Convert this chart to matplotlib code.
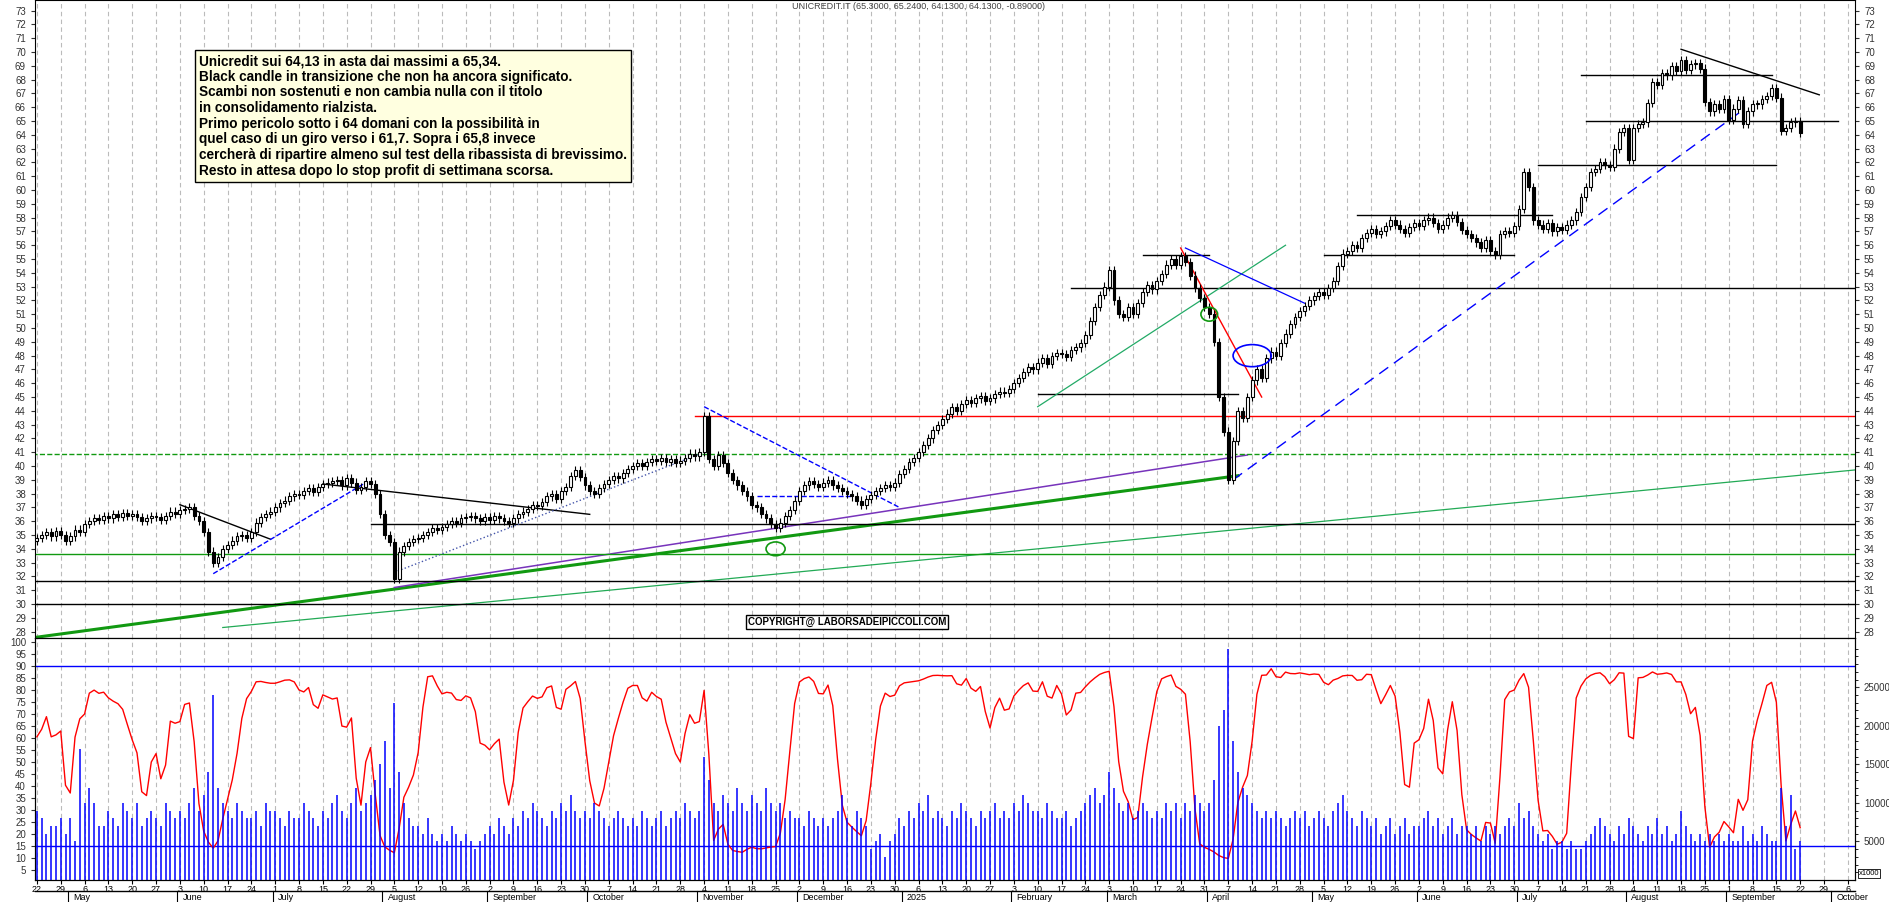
import numpy as np
import pandas as pd
import matplotlib
matplotlib.use("Agg")
import matplotlib.pyplot as plt
from matplotlib.patches import Rectangle, Ellipse

plt.rcParams["font.family"] = "Liberation Sans"

# ---------------- data ----------------
start_date = "2024-04-22"
end_date = "2025-09-22"
closes = [
    34.8, 35.0, 35.2, 34.9, 35.3,
    35.0, 34.6, 34.9, 35.4, 35.2,
    35.8, 36.0, 36.2, 36.1, 36.4,
    36.2, 36.5, 36.3, 36.6, 36.4,
    36.5, 36.3, 36.0, 36.2, 36.4,
    36.3, 36.1, 36.4, 36.7, 36.5,
    36.8, 36.9, 37.0, 36.4, 36.0,
    35.2, 33.8, 33.0, 33.4, 34.0,
    34.3, 34.6, 34.9, 35.0, 34.8,
    35.2, 35.9, 36.3, 36.5, 36.7,
    37.0, 37.3, 37.5, 37.8, 38.0,
    37.9, 38.2, 38.4, 38.1, 38.5,
    38.7, 38.8, 38.9, 39.0, 38.6,
    39.1, 38.8, 38.3, 38.5, 38.9,
    38.7, 38.0, 36.5, 35.0, 34.5,
    31.8, 33.8, 34.2, 34.5, 34.7,
    34.8, 35.0, 35.2, 35.5, 35.4,
    35.6, 35.8, 36.0, 35.9, 36.2,
    36.3, 36.4, 36.2, 36.0, 36.3,
    36.1, 36.4, 36.2, 36.0, 35.9,
    36.2, 36.5, 36.7, 36.9, 37.2,
    37.1, 37.4, 37.8, 38.0, 37.6,
    38.2, 38.5, 39.3, 39.7, 39.2,
    38.6, 38.2, 38.0, 38.4, 38.7,
    39.0, 39.3, 39.1, 39.5, 39.8,
    40.0, 40.2, 40.0, 40.3, 40.5,
    40.4, 40.6, 40.3, 40.5, 40.2,
    40.4, 40.6, 40.9, 40.7, 41.0,
    43.6, 40.5, 40.0, 40.8, 40.2,
    39.5, 39.0, 38.6, 38.2, 37.8,
    37.2, 37.0, 36.5, 36.2, 35.8,
    35.5, 35.9, 36.4, 36.8, 37.5,
    38.2, 38.6, 38.9, 38.7, 38.5,
    38.8, 39.0, 38.6, 38.4, 38.2,
    38.0, 37.8, 37.5, 37.2, 37.6,
    37.9, 38.2, 38.4, 38.6, 38.5,
    38.8, 39.4, 39.8, 40.3, 40.6,
    41.0, 41.5, 42.0, 42.6, 43.0,
    43.4, 43.8, 44.3, 44.0, 44.5,
    44.8, 44.6, 44.9, 45.1, 44.7,
    44.9, 45.2, 45.4, 45.3, 45.6,
    46.0, 46.4, 46.8, 47.2, 47.0,
    47.5, 47.8, 47.4, 48.0, 48.2,
    48.1, 47.9, 48.4, 48.6, 48.9,
    49.5, 50.5, 51.5, 52.4, 53.0,
    54.2, 52.0, 51.0, 50.8, 51.5,
    51.0, 51.8, 52.6, 53.1, 52.8,
    53.4, 53.9, 54.6, 55.0, 54.6,
    55.2, 54.8, 53.8, 52.9, 52.2,
    51.5, 51.0, 49.0, 45.0, 42.5,
    39.0, 41.8, 44.0, 43.5, 45.0,
    46.2, 47.0, 46.4, 47.8, 48.3,
    48.0, 48.9, 49.6, 50.3, 50.8,
    51.2, 51.6, 52.0, 52.3, 52.6,
    52.4, 52.9, 53.4, 54.5, 55.4,
    55.6, 56.0, 55.8, 56.5, 56.9,
    57.2, 56.8, 57.0, 57.4, 57.8,
    57.5, 57.2, 56.9, 57.3, 57.6,
    57.4, 57.8, 58.0, 57.6, 57.2,
    57.5, 58.0, 58.2, 57.7, 57.1,
    56.8, 56.5, 56.2, 55.8, 56.4,
    55.6, 55.3, 56.8, 57.0, 56.9,
    57.4, 58.6, 61.3, 60.2, 57.8,
    57.5, 57.2, 57.6, 57.0, 57.3,
    57.1, 57.5, 57.8, 58.4, 59.5,
    60.2, 61.3, 61.5, 62.0, 61.8,
    61.7, 63.0, 64.2, 64.5, 62.2,
    64.5, 64.8, 64.9, 66.3, 67.8,
    67.6, 68.5, 68.3, 69.0, 68.6,
    69.4, 68.7, 69.1, 69.2, 68.8,
    66.4, 65.7, 66.2, 65.9, 66.6,
    65.1, 65.9, 66.5, 64.8, 65.7,
    66.2, 66.2, 66.6, 66.8, 67.4,
    66.7, 64.3, 64.5, 64.9, 65.0,
    64.13,
]
volumes_k = [
    9, 8, 6, 7, 7,
    8, 6, 8, 5, 17,
    10, 12, 10, 7, 7,
    9, 8, 7, 10, 9,
    8, 10, 7, 8, 9,
    8, 7, 10, 9, 8,
    9, 8, 10, 12, 9,
    11, 14, 24, 12, 10,
    9, 8, 10, 9, 8,
    8, 9, 7, 10, 9,
    9, 8, 7, 9, 8,
    8, 10, 9, 8, 7,
    9, 8, 10, 11, 9,
    8, 10, 12, 9, 10,
    11, 13, 15, 18, 12,
    23, 14, 10, 8, 7,
    7, 6, 8, 6, 5,
    6, 5, 7, 6, 5,
    6, 5, 4, 5, 6,
    7, 6, 8, 7, 6,
    8, 7, 9, 8, 10,
    9, 8, 7, 9, 8,
    10, 9, 11, 9, 8,
    9, 8, 10, 9, 8,
    7, 8, 9, 8, 7,
    8, 7, 9, 8, 7,
    8, 9, 7, 8, 9,
    8, 10, 9, 8, 9,
    16, 13, 10, 9, 11,
    10, 9, 12, 10, 9,
    11, 10, 9, 12, 10,
    9, 10, 8, 9, 8,
    8, 7, 9, 8, 7,
    8, 7, 8, 9, 11,
    8, 7, 9, 8, 7,
    4, 5, 6, 3, 5,
    6, 8, 7, 9, 8,
    10, 9, 11, 8, 9,
    8, 7, 9, 8, 10,
    9, 8, 7, 9, 8,
    9, 10, 8, 9, 8,
    10, 9, 11, 10, 9,
    9, 8, 10, 9, 8,
    8, 9, 7, 8, 9,
    10, 11, 12, 10, 11,
    14, 12, 10, 9, 10,
    8, 9, 10, 9, 8,
    9, 8, 10, 9, 10,
    8, 10, 9, 11, 10,
    9, 10, 13, 20, 22,
    30, 18, 14, 12, 11,
    10, 9, 8, 9, 8,
    9, 8, 7, 8, 9,
    8, 9, 7, 8, 9,
    8, 7, 9, 10, 11,
    9, 8, 7, 9, 8,
    7, 8, 6, 7, 8,
    6, 7, 8, 6, 7,
    7, 8, 9, 7, 8,
    6, 7, 8, 6, 7,
    7, 6, 7, 5, 7,
    6, 7, 6, 7, 8,
    7, 10, 8, 9, 7,
    6, 5, 6, 4, 5,
    5, 4, 5, 4, 4,
    5, 6, 7, 8, 7,
    6, 5, 7, 6, 8,
    7, 6, 5, 7, 6,
    8, 6, 7, 5, 6,
    9, 7, 6, 5, 6,
    5, 6, 5, 6, 5,
    6, 5, 5, 7, 5,
    6, 5, 7, 6, 5,
    5, 12, 7, 11, 4,
    5,
]
# annotation lines: (date0, price0, date1, price1, color, style, width)
trend_lines = [
    ("2024-04-22", 27.6, "2025-04-09", 39.3, "#119911", "-", 2.2),
    ("2024-06-14", 28.3, "2025-10-10", 39.8, "#22aa55", "-", 0.9),
    ("2024-08-05", 31.2, "2025-04-11", 40.8, "#7733bb", "-", 1.1),
    ("2024-04-19", 30.0, "2025-10-10", 30.0, "black", "-", 1.0),
    ("2024-04-19", 31.7, "2025-10-10", 31.7, "black", "-", 1.0),
    ("2024-04-19", 33.6, "2025-10-10", 33.6, "#119911", "-", 1.0),
    ("2024-07-29", 35.8, "2025-10-10", 35.8, "black", "-", 1.0),
    ("2024-04-19", 40.9, "2025-10-10", 40.9, "#119911", "--", 1.0),
    ("2024-10-31", 43.6, "2025-10-10", 43.6, "red", "-", 1.0),
    ("2025-02-10", 45.2, "2025-04-09", 45.2, "black", "-", 1.0),
    ("2025-02-19", 52.9, "2025-10-10", 52.9, "black", "-", 1.0),
    ("2025-03-12", 55.3, "2025-04-01", 55.3, "black", "-", 1.0),
    ("2025-05-05", 55.3, "2025-06-30", 55.3, "black", "-", 1.0),
    ("2025-05-14", 58.2, "2025-07-10", 58.2, "black", "-", 1.0),
    ("2025-07-07", 61.8, "2025-09-15", 61.8, "black", "-", 1.0),
    ("2025-07-21", 65.0, "2025-10-02", 65.0, "black", "-", 1.0),
    ("2025-07-18", 68.3, "2025-09-12", 68.3, "black", "-", 1.0),
    ("2025-08-18", 70.2, "2025-09-26", 66.9, "black", "-", 1.0),
    ("2024-06-03", 37.2, "2024-06-28", 34.7, "black", "-", 1.0),
    ("2024-07-15", 38.7, "2024-10-01", 36.5, "black", "-", 1.0),
    ("2024-06-12", 32.2, "2024-07-26", 38.8, "blue", "--", 1.0),
    ("2024-08-05", 32.3, "2024-11-04", 41.0, "#4455aa", ":", 1.0),
    ("2024-11-04", 44.3, "2024-12-31", 37.0, "blue", "--", 1.0),
    ("2024-11-19", 37.8, "2024-12-17", 37.8, "blue", "--", 1.0),
    ("2025-02-10", 44.3, "2025-04-23", 56.0, "#22aa66", "-", 0.9),
    ("2025-03-25", 55.8, "2025-04-29", 51.8, "blue", "-", 0.9),
    ("2025-03-24", 55.8, "2025-04-16", 45.0, "red", "-", 1.0),
    ("2025-04-08", 39.0, "2025-09-04", 65.8, "blue", (0, (8, 5)), 1.0),
]
title_text = "UNICREDIT.IT (65.3000, 65.2400, 64.1300, 64.1300, -0.89000)"
note_lines = [
    "Unicredit sui 64,13 in asta dai massimi a 65,34.",
    "Black candle in transizione che non ha ancora significato.",
    "Scambi non sostenuti e non cambia nulla con il titolo",
    "in consolidamento rialzista.",
    "Primo pericolo sotto i 64 domani con la possibilità in",
    "quel caso di un giro verso i 61,7. Sopra i 65,8 invece",
    "cercherà di ripartire almeno sul test della ribassista di brevissimo.",
    "Resto in attesa dopo lo stop profit di settimana scorsa.",
]

# ---------------- derived ----------------
dates = pd.bdate_range(start_date, end_date)
n = min(len(dates), len(closes), len(volumes_k))
c = np.array(closes[:n])
o = np.concatenate([[c[0] - 0.2], c[:-1]])
hi = np.maximum(o, c) + 0.3
lo = np.minimum(o, c) - 0.3
vol = np.array(volumes_k[:n], dtype=float)
idx = np.arange(n)
ext = pd.bdate_range("2024-04-15", "2025-10-17")
off = ext.get_loc(pd.Timestamp(start_date))
def di(d):
    return ext.get_indexer([pd.Timestamp(d)], method="nearest")[0] - off

# stochastic oscillator
k = 8
ll = pd.Series(lo).rolling(k, min_periods=1).min()
hh = pd.Series(hi).rolling(k, min_periods=1).max()
stoch = (100 * (c - ll) / (hh - ll)).rolling(2, min_periods=1).mean()
stoch = 8 + 0.84 * stoch

# ---------------- figure ----------------
fig = plt.figure(figsize=(18.9, 9.02), dpi=100)
L, R = 35 / 1890, 1855 / 1890
ax = fig.add_axes([L, 1 - 638 / 902, R - L, 638 / 902])
ax2 = fig.add_axes([L, 22 / 902, R - L, (880 - 638) / 902], sharex=ax)
xl = (-0.4, 381.5)
ax.set_xlim(*xl)
ax.set_ylim(27.54, 73.77)

mondays = [i - off for i, d in enumerate(ext) if d.weekday() == 0 and xl[0] <= i - off <= xl[1]]
for a in (ax, ax2):
    for m in mondays:
        a.axvline(m, color="#bbbbbb", ls=(0, (4, 3)), lw=0.8, zorder=0)

for t in trend_lines:
    d0, p0, d1, p1, col, ls, lw = t
    ax.plot([di(d0), di(d1)], [p0, p1], color=col, ls=ls, lw=lw, zorder=2)

w = 0.6
for i in idx:
    up = c[i] >= o[i]
    ax.vlines(i, lo[i], hi[i], color="black", lw=0.8, zorder=3)
    b0 = min(o[i], c[i]); bh = max(abs(c[i] - o[i]), 0.08)
    ax.add_patch(Rectangle((i - w / 2, b0), w, bh, facecolor="white" if up else "black",
                           edgecolor="black", lw=0.8, zorder=4))

ax.add_patch(Ellipse((di("2024-11-25"), 34.0), 4, 1.0, fill=False, ec="#119911", lw=1.2, zorder=5))
ax.add_patch(Ellipse((di("2025-04-01"), 51.0), 3.5, 1.0, fill=False, ec="#119911", lw=1.2, zorder=5))
ax.add_patch(Ellipse((di("2025-04-14"), 48.0), 8, 1.6, fill=False, ec="blue", lw=1.2, zorder=5))

ax.set_yticks(np.arange(28, 74))
ax.tick_params(axis="y", labelleft=True, labelright=True, left=True, right=True,
               labelsize=7, length=3, colors="#333333")
ax.tick_params(axis="x", bottom=False, labelbottom=False)

ax.text(di("2025-01-06"), 73.3, title_text, ha="center",
        va="center", fontsize=6.5, color="#444444")
ax.text(di("2024-06-07"), 69.85, "\n".join(note_lines), fontsize=9.8, fontweight="bold",
        va="top", ha="left", linespacing=1.15,
        bbox=dict(boxstyle="square,pad=0.3", fc="#ffffe0", ec="black", lw=1))
ax.text(di("2024-12-16"), 28.7, "COPYRIGHT@ LABORSADEIPICCOLI.COM", fontsize=7, fontweight="bold",
        ha="center", va="center",
        bbox=dict(boxstyle="square,pad=0.15", fc="white", ec="black", lw=1))

# lower panel
ax2.set_ylim(0.8, 101.7)
ax2.plot(idx, stoch, color="red", lw=1.0, zorder=3)
ax2.axhline(90, color="blue", lw=1.0)
ax2.axhline(15, color="blue", lw=1.0)
ax2.set_yticks(np.arange(5, 101, 5))
ax2.tick_params(axis="y", labelsize=7, length=3, colors="#333333")
axv = ax2.twinx()
axv.set_ylim(0, 31.4)
axv.vlines(idx, 0, vol, color="blue", lw=1.1, zorder=2)
axv.set_yticks([5, 10, 15, 20, 25])
axv.set_yticks(np.arange(1, 31, 1), minor=True)
axv.set_yticklabels(["5000", "10000", "15000", "20000", "25000"])
axv.tick_params(axis="y", labelsize=7, length=3, colors="#333333")
axv.text(1.002, 0.02, "x1000", transform=axv.transAxes, fontsize=5.5,
         bbox=dict(boxstyle="square,pad=0.1", fc="white", ec="black", lw=0.6))

ax2.set_xticks(mondays)
ax2.set_xticklabels([str(ext[m + off].day) for m in mondays], fontsize=6.5)
ax2.tick_params(axis="x", length=3, pad=0.5)
# month row
months = {}
for m in range(int(np.ceil(xl[0])), int(xl[1]) + 1):
    d = ext[m + off]
    key = (d.year, d.month)
    if key not in months:
        months[key] = m
for (y, mth), i in months.items():
    if i <= 0:
        continue
    name = "2025" if (y == 2025 and mth == 1) else pd.Timestamp(y, mth, 1).strftime("%B")
    ax2.annotate(name, xy=(i, 0), xycoords=("data", "axes fraction"), xytext=(2, -12.5),
                 textcoords="offset points", fontsize=6.5, va="center", ha="left",
                 annotation_clip=False)
    ax2.plot([i - 0.5, i - 0.5], [-0.045, -0.09], transform=ax2.get_xaxis_transform(),
             color="black", lw=0.8, clip_on=False)
ax2.plot([xl[0], xl[1]], [-0.045, -0.045], transform=ax2.get_xaxis_transform(),
         color="black", lw=1.0, clip_on=False)

fig.savefig("out.png", dpi=100)
